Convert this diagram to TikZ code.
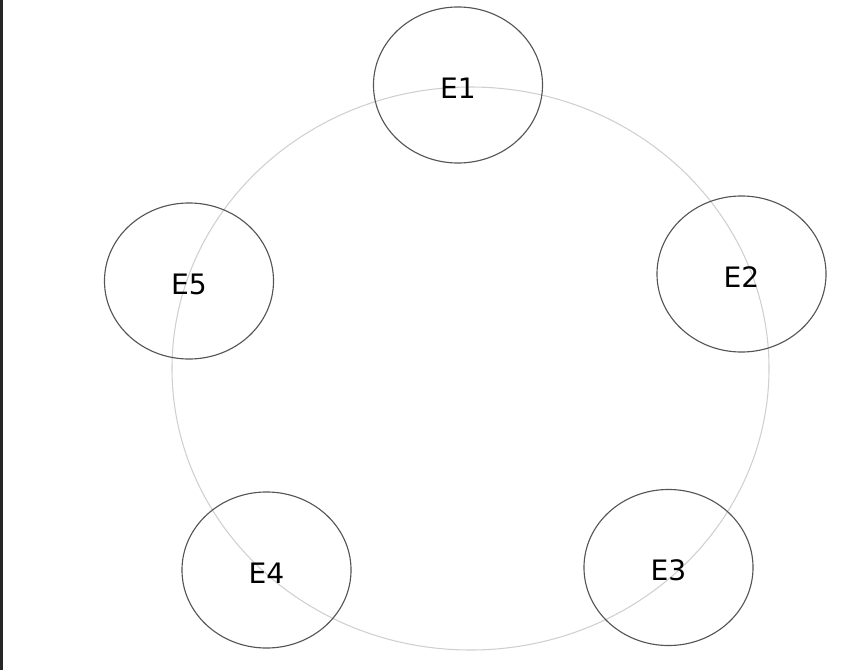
\documentclass[tikz,border=0pt]{standalone}
\usepackage{fontspec}
\setmainfont{DejaVu Sans}
\usepackage{tikz}
\usetikzlibrary{shapes.geometric}
\definecolor{ringgray}{HTML}{CFCFCF}
\definecolor{edgegray}{HTML}{555555}
\definecolor{stripgray}{HTML}{262626}
\tikzset{entity/.style={ellipse, draw=edgegray, line width=0.8pt, minimum width=4.225cm, minimum height=3.9cm, inner sep=0pt, text height=19pt, font=\fontsize{20}{24}\selectfont}, ring/.style={draw=ringgray, line width=0.75pt}}

\begin{document}
\begin{tikzpicture}[x=0.025cm,y=-0.025cm]
\useasboundingbox (0,0) rectangle (841,670);
\fill[stripgray] (0,0) rectangle (3,670);
\draw[ring] (470.5,368.5) ellipse [x radius=298.5, y radius=281.5];
\node[entity] (e1) at (458,85) {E1};
\node[entity] (e2) at (741.5,274) {E2};
\node[entity] (e3) at (668.5,567.5) {E3};
\node[entity] (e4) at (266.5,570) {E4};
\node[entity] (e5) at (189,281) {E5};
\end{tikzpicture}
\end{document}
